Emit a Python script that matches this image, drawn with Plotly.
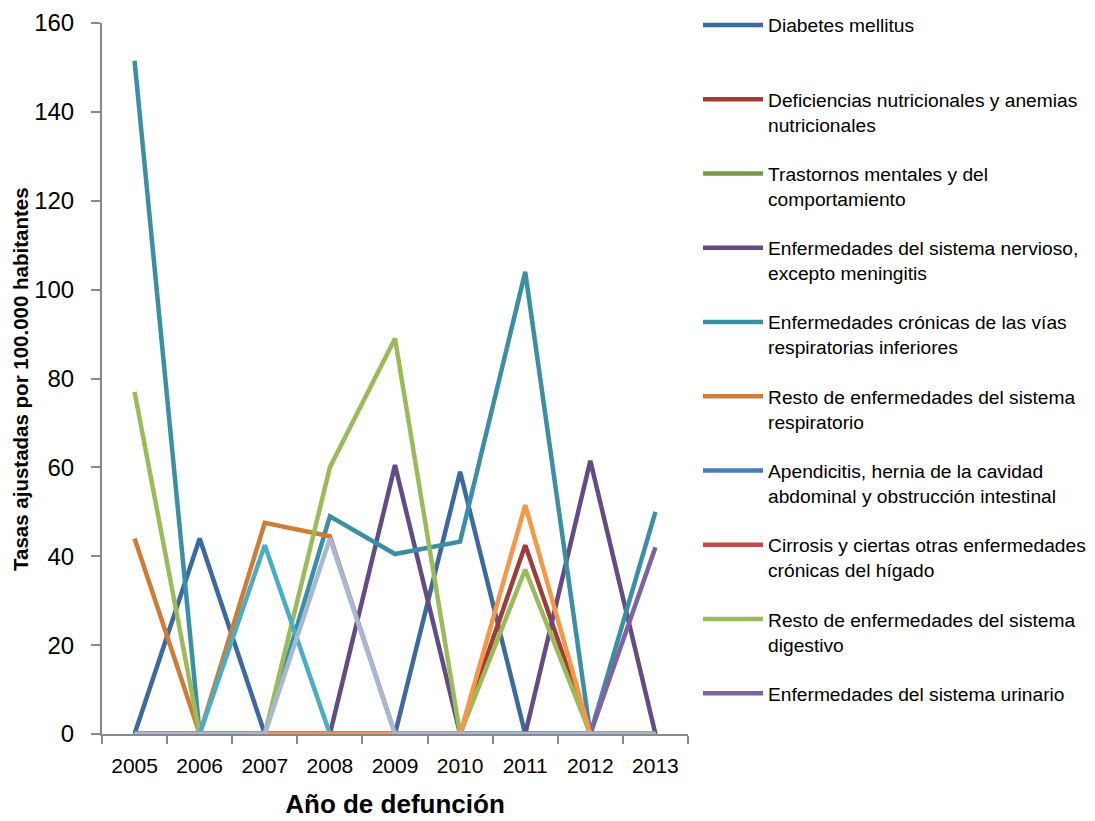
import plotly.graph_objects as go

years = ["2005", "2006", "2007", "2008", "2009", "2010", "2011", "2012", "2013"]

names = [
    "Diabetes mellitus<br>&nbsp;",
    "Deficiencias nutricionales y anemias<br>nutricionales",
    "Trastornos mentales y del<br>comportamiento",
    "Enfermedades del sistema nervioso,<br>excepto meningitis",
    "Enfermedades crónicas de las vías<br>respiratorias inferiores",
    "Resto de enfermedades del sistema<br>respiratorio",
    "Apendicitis, hernia de la cavidad<br>abdominal y obstrucción intestinal",
    "Cirrosis y ciertas otras enfermedades<br>crónicas del hígado",
    "Resto de enfermedades del sistema<br>digestivo",
    "Enfermedades del sistema urinario<br>&nbsp;",
    "Serie 11",
    "Serie 12",
    "Serie 13",
]

diabetes = [0, 44, 0, 0, 0, 59, 0, 0, 0]
deficiencias = [0, 0, 0, 0, 0, 0, 42.5, 0, 0]
trastornos = [0, 0, 0, 0, 0, 0, 0, 0, 0]
nervioso = [0, 0, 0, 0, 60.5, 0, 0, 61.5, 0]
cronicas = [151.5, 0, 0, 49, 40.5, 43.3, 104, 0, 50]
resto_resp = [44, 0, 47.5, 44.5, 0, 0, 0, 0, 0]
apendicitis = [0, 0, 0, 0, 0, 0, 0, 0, 0]
cirrosis = [0, 0, 0, 0, 0, 0, 0, 0, 0]
digestivo = [77, 0, 0, 60, 89, 0, 37, 0, 0]
urinario = [0, 0, 0, 0, 0, 0, 0, 0, 42]
serie11 = [0, 0, 42.5, 0, 0, 0, 0, 0, 0]
serie12 = [0, 0, 0, 0, 0, 0, 51.5, 0, 0]
serie13 = [0, 0, 0, 44, 0, 0, 0, 0, 0]

series = [diabetes, deficiencias, trastornos, nervioso, cronicas, resto_resp,
          apendicitis, cirrosis, digestivo, urinario, serie11, serie12, serie13]

colors = ["#3c69a0", "#9f3c39", "#7c9a44", "#634c84", "#3a8fa5", "#d07c36",
          "#4a7ebb", "#be4b48", "#9bbb59", "#7f62a1", "#4bacc6", "#f79646", "#a6b8d6"]

FONT = "Liberation Sans, Arial, sans-serif"

fig = go.Figure()
for i, (nm, vals, col) in enumerate(zip(names, series, colors)):
    fig.add_trace(go.Scatter(
        x=years, y=vals, mode="lines", name=nm,
        line=dict(color=col, width=4.5),
        legendgroup="g%d" % i,
        showlegend=i < 10,
    ))

fig.add_annotation(
    text="<b>Tasas ajustadas por 100.000 habitantes</b>",
    xref="paper", yref="paper", x=-0.1391, y=0.5,
    xanchor="center", yanchor="middle", textangle=-90, showarrow=False,
    font=dict(family=FONT, size=20.5, color="black"),
)

fig.update_layout(
    width=1087, height=813,
    margin=dict(l=94, r=407, t=15, b=87, autoexpand=False),
    paper_bgcolor="white", plot_bgcolor="white",
    font=dict(family=FONT, color="black"),
    showlegend=True,
    legend=dict(
        x=1.0171, y=1.024, xanchor="left", yanchor="top",
        font=dict(family=FONT, size=19.2, color="black"),
        valign="top", tracegroupgap=21.35, itemwidth=60, maxheight=900,
        bgcolor="rgba(0,0,0,0)",
    ),
    xaxis=dict(
        type="category", range=[-0.5, 8.5],
        showline=True, linecolor="#898989", linewidth=2,
        ticks="outside", tickson="boundaries", ticklen=8, tickcolor="#898989", tickwidth=2,
        showgrid=False, zeroline=False, tickangle=0,
        tickfont=dict(family=FONT, size=21),
        ticklabelstandoff=12,
        title=dict(text="<b>Año de defunción</b>", font=dict(family=FONT, size=26), standoff=19),
    ),
    yaxis=dict(
        range=[0, 160], dtick=20,
        showline=True, linecolor="#898989", linewidth=2,
        ticks="outside", ticklen=9, tickcolor="#898989", tickwidth=2,
        showgrid=False, zeroline=False,
        tickfont=dict(family=FONT, size=24),
        ticklabelstandoff=12,
    ),
)

fig.write_html("out.html")
